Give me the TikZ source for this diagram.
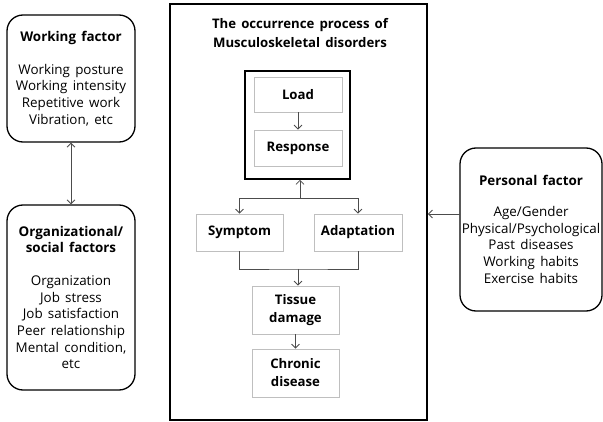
\documentclass[tikz,border=0pt]{standalone}
\usepackage{fontspec}
\setmainfont{Open Sans}[WordSpace=1.5]
\usetikzlibrary{positioning}
\usetikzlibrary{arrows.meta}

\begin{document}
\begin{tikzpicture}[x=1pt,y=-1pt,
    every node/.style={font=\fontsize{13.4}{16.7}\selectfont},
    factorbox/.style={draw,line width=1.3pt,rounded corners=16pt,align=center,inner sep=0pt},
    stagebox/.style={draw=black!25,line width=0.8pt,align=center,inner sep=0pt,
        font=\fontsize{13.2}{18}\selectfont\bfseries},
    >={Straight Barb[length=4pt,width=8pt]}]
    \useasboundingbox (0,0) rectangle (603,422);
    % factors
    \begin{scope}[every node/.append style={factorbox}]
        \node(workf)[minimum width=128pt,minimum height=127pt] at (71,78.5)
            {\textbf{Working factor}\\[16pt]Working posture\\Working intensity\\Repetitive work\\Vibration, etc};
        \node(orgf)[minimum width=128pt,minimum height=185pt] at (71,297.5)
            {\textbf{Organizational/}\\\textbf{social factors}\\[16pt]Organization\\Job stress\\Job satisfaction\\Peer relationship\\Mental condition,\\etc};
        \node(perf)[minimum width=142pt,minimum height=163pt] at (531,229.5)
            {\textbf{Personal factor}\\[14pt]Age/Gender\\Physical/Psychological\\Past diseases\\Working habits\\Exercise habits};
    \end{scope}
    % process
    \node(mainbox)[draw,line width=1.8pt,minimum width=257pt,minimum height=416pt] at (298.5,212) {};
    \node(title)[align=center,font=\fontsize{13.2}{19}\selectfont\bfseries] at (300,33.5) {The occurrence process of\\Musculoskeletal disorders};
    \node(innerbox)[draw,line width=1.6pt,minimum width=105pt,minimum height=108pt] at (297.5,125) {};
    \begin{scope}[every node/.append style={stagebox}]
        \node(load)[minimum width=88pt,minimum height=35pt] at (298,94.5) {Load};
        \node(resp)[minimum width=88pt,minimum height=36pt] at (298,148) {Response};
        \node(sym)[minimum width=87pt,minimum height=37pt] at (239.5,232.5) {Symptom};
        \node(adp)[minimum width=88pt,minimum height=37pt] at (358,232.5) {Adaptation};
        \node(tis)[minimum width=87pt,minimum height=48pt] at (295.5,310) {Tissue\\damage};
        \node(chr)[minimum width=87pt,minimum height=48pt] at (295.5,373) {Chronic\\disease};
    \end{scope}
    \coordinate(split) at (300,198);
    \coordinate(merge) at (298,269);
    \coordinate(pin) at (460,214);
    %Lines
    \begin{scope}[draw=black!70,line width=0.8pt]
        \draw[<->] (workf.south) -- (orgf.north);
        \draw[->] (pin) -- (pin -| mainbox.east);
        \draw[->] (load.south) -- (resp.north);
        \draw[->] (split) -- (split |- innerbox.south);
        \draw[->] (split) -| (sym.north);
        \draw[->] (split) -| (adp.north);
        \draw (sym.south) |- (merge) -| (adp.south);
        \draw[->] (merge) -- (merge |- tis.north);
        \draw[->] (tis.south) -- (chr.north);
    \end{scope}
\end{tikzpicture}
\end{document}
